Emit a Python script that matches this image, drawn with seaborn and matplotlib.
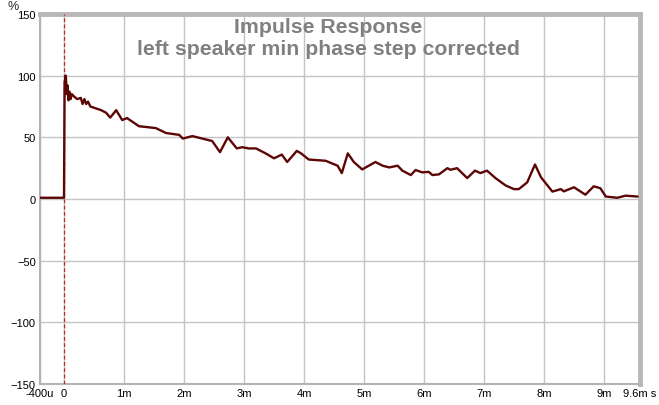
import pandas as pd
import matplotlib.pyplot as plt
import seaborn as sns

sns.set_theme(style="white")
plt.rcParams['font.family'] = ['Liberation Sans', 'DejaVu Sans']

# impulse response trace (time in ms, value in %)
t_ms = [-0.4, -0.02, 0.0, 0.01, 0.03, 0.045, 0.06, 0.075, 0.09, 0.11, 0.13, 0.17,
        0.22, 0.28, 0.31, 0.34, 0.37, 0.40, 0.44, 0.5, 0.56, 0.62, 0.7, 0.77,
        0.87, 0.97, 1.05, 1.25, 1.53, 1.7, 1.92, 1.98, 2.14, 2.47, 2.6, 2.73,
        2.88, 2.97, 3.08, 3.2, 3.36, 3.5, 3.63, 3.72, 3.88, 3.95, 4.08, 4.36,
        4.56, 4.63, 4.73, 4.83, 4.97, 5.08, 5.19, 5.31, 5.42, 5.56, 5.64, 5.78,
        5.86, 5.97, 6.08, 6.14, 6.25, 6.39, 6.44, 6.55, 6.72, 6.85, 6.94, 7.05,
        7.19, 7.36, 7.5, 7.58, 7.72, 7.85, 7.95, 8.14, 8.28, 8.33, 8.5, 8.69,
        8.83, 8.94, 9.03, 9.22, 9.36, 9.56]
response = [1, 1, 1, 95, 100, 85, 92, 80, 87, 81, 85, 83,
            81, 82, 77, 81, 77, 79, 75, 74, 73, 72, 70, 66,
            72, 64, 65.6, 59, 57.5, 53.5, 52, 49, 51, 47, 38, 50,
            41, 42, 41, 41, 37, 33, 36, 30, 39, 37, 32, 31,
            27, 21, 37, 30, 24, 27, 30, 27, 25.6, 27, 23, 19.4,
            23.5, 21.6, 22, 19.4, 20, 25, 23.7, 25, 17, 23, 21, 23,
            17, 11, 8, 8, 13.5, 28, 17.6, 6, 8, 6.2, 9.5, 3.5,
            10.3, 8.7, 2, 1, 2.7, 2]

x_ticks = [-0.4, 0, 1, 2, 3, 4, 5, 6, 7, 8, 9, 9.6]
x_labels = ['-400u', '0', '1m', '2m', '3m', '4m', '5m', '6m', '7m', '8m', '9m', '9.6m s']
y_ticks = [-150, -100, -50, 0, 50, 100, 150]

df = pd.DataFrame({'t': t_ms, 'v': response})

fig = plt.figure(figsize=(6.59, 4.06), dpi=100)
fig.patch.set_facecolor('white')
ax = fig.add_axes([40 / 659, 1 - 385 / 406, 600 / 659, 370 / 406])

ax.set_xlim(-0.4, 9.6)
ax.set_ylim(-150, 150)
ax.set_xticks(x_ticks)
ax.set_xticklabels(x_labels)
ax.set_yticks(y_ticks)
ax.tick_params(axis='both', length=0, labelsize=8, colors='black', pad=3)
ax.grid(True, color='#c4c4c4', linewidth=1)
ax.set_axisbelow(True)

for side in ['left', 'bottom']:
    ax.spines[side].set_color('#b4b4b4')
    ax.spines[side].set_linewidth(1.5)
for side in ['top', 'right']:
    ax.spines[side].set_color('#b8b8b8')
    ax.spines[side].set_linewidth(3.5)

# red dashed marker at t = 0
ax.axvline(0, color='#cc2020', linestyle=(0, (3, 2)), linewidth=0.9, zorder=3)

sns.lineplot(data=df, x='t', y='v', ax=ax, color='#5c0606', linewidth=1.7, zorder=4)
ax.set_xlabel('')
ax.set_ylabel('')

ax.text(-0.035, 1.005, '%', transform=ax.transAxes, fontsize=9, ha='right', va='bottom')

title_lines = ['Impulse Response', 'left speaker min phase step corrected']
for line, y_px in zip(title_lines, [33, 55]):
    fig.text(0.4985, 1 - y_px / 406, line, ha='center', va='baseline',
             fontsize=15.3, fontweight='bold', color='#808080')

plt.savefig('out.png', dpi=100)
plt.close()
